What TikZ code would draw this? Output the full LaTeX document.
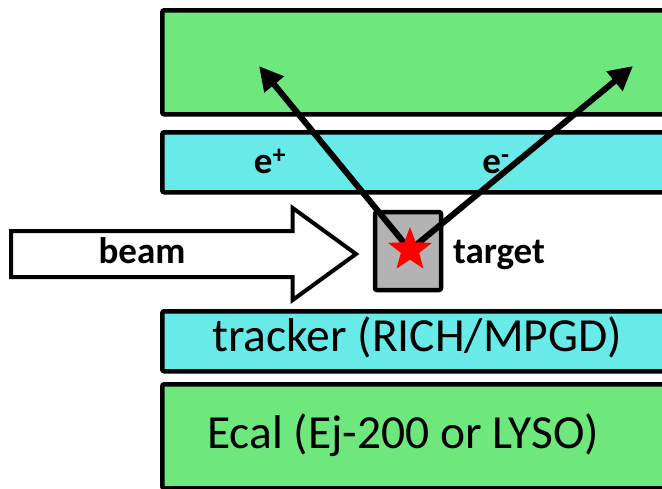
\documentclass[tikz,border=0pt]{standalone}
\usepackage{fontspec}
\setmainfont{Carlito}
\usetikzlibrary{arrows.meta,shapes.geometric,shapes.arrows}

\definecolor{calgreen}{RGB}{110,232,125}
\definecolor{trkcyan}{RGB}{104,234,232}
\definecolor{tgtgray}{RGB}{179,179,179}

\tikzset{
  layer/.style={draw,line width=4.5pt,rounded corners=2pt,minimum width=560pt,
    inner sep=0pt,anchor=north west},
  calbox/.style={layer,fill=calgreen,minimum height=104pt},
  trkbox/.style={layer,fill=trkcyan,minimum height=60pt},
  bigtxt/.style={font=\fontsize{47.5}{52}\selectfont,anchor=base},
  boldtxt/.style={font=\fontsize{37}{41}\selectfont\bfseries,anchor=base},
}

\begin{document}
\begin{tikzpicture}[x=1pt,y=-1pt,>={Triangle[length=24pt,width=24pt]}]

  \clip (0,0) rectangle (662,488);

  \node[calbox] (topcal) at (160,8) {};
  \node[trkbox] (toptrk) at (160,130) {};
  \node[trkbox] (bottrk) at (160,309) {};
  \node[calbox] (botcal) at (160,382) {};

  \node[boldtxt] (eplus) at (270,173) {e\textsuperscript{+}};
  \node[boldtxt] (eminus) at (496,173) {e\textsuperscript{-}};
  \node[bigtxt] (trklbl) at (417,351) {tracker (RICH/MPGD)};
  \node[bigtxt] (callbl) at (403,448) {Ecal (Ej-200 or LYSO)};

  \node[single arrow,draw,fill=white,line width=4pt,inner sep=0pt,
    minimum height=345pt,single arrow head extend=23pt,
    single arrow tip angle=72,
    anchor=tail] (beam) at (9,254) {\rule{0pt}{42pt}};
  \node[boldtxt] (beamlbl) at (142,263) {beam};

  \node[draw,fill=tgtgray,line width=4.5pt,rounded corners=2pt,
    minimum width=66pt,minimum height=78pt] (target) at (408,251) {};
  \node[boldtxt] (tgtlbl) at (499,263) {target};

  \coordinate (vtx) at (410,250);
  \coordinate (posend) at (259,66);
  \coordinate (eleend) at (633,66);

  \path[->,line width=6pt] (vtx) edge (posend)
        (vtx) edge (eleend);

  \node[star,star points=5,star point ratio=2.4,fill=red,inner sep=0pt,
    minimum size=46pt] (hit) at (vtx) {};

\end{tikzpicture}
\end{document}
